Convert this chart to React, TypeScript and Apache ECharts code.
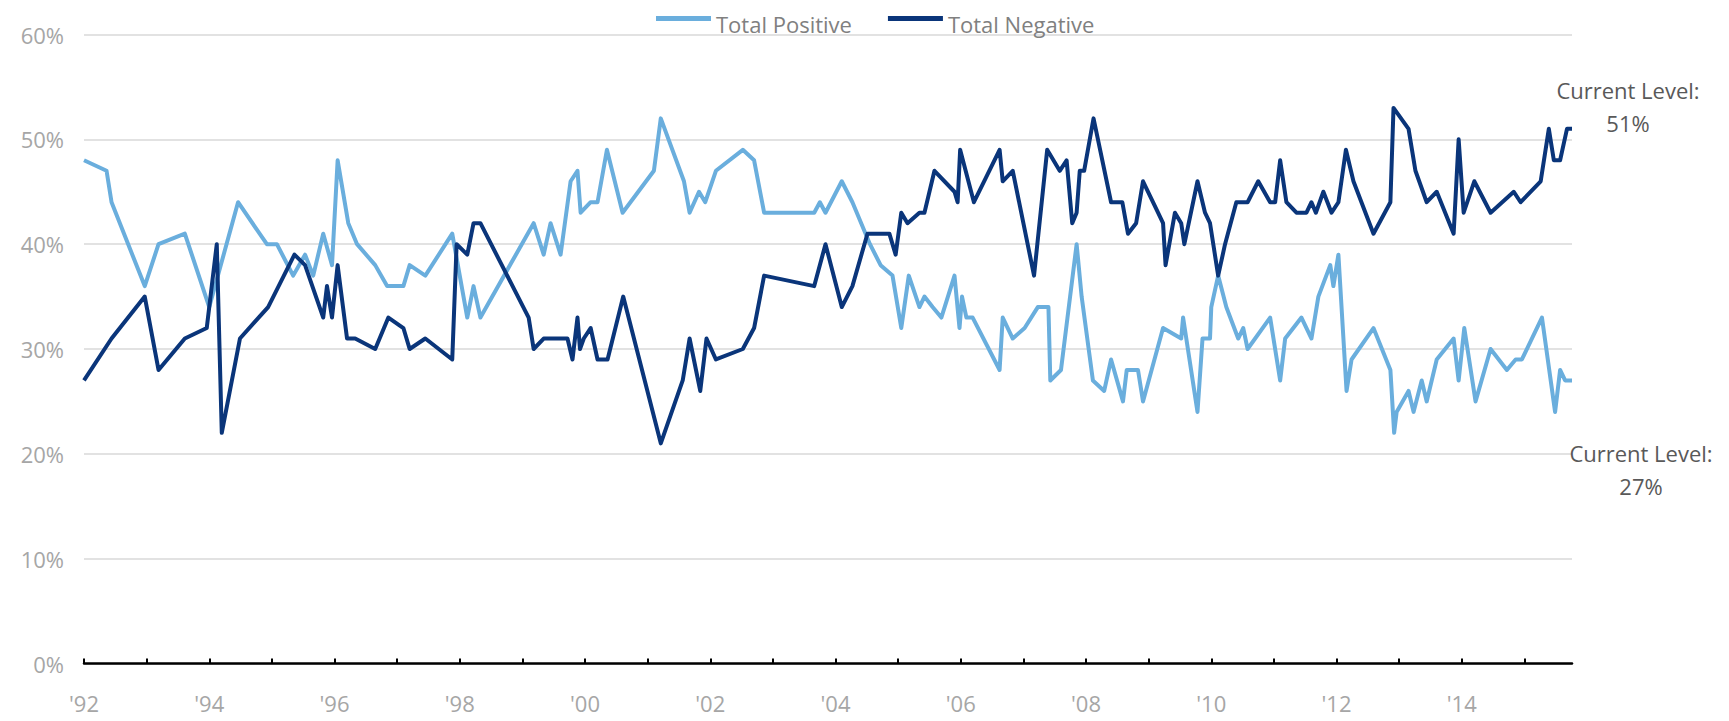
import { useEffect, useRef } from 'react';
import * as echarts from 'echarts';

const seriesNames = ['Total Positive', 'Total Negative'];
const seriesColors = ['#6AAEDD', '#0A357A'];
const annotationLabel = 'Current Level:';
const xStart = 1992;
const xEnd = 2015.76;
const yMax = 60;
const yStep = 10;

const positiveDates = [
  1992.00, 1992.36, 1992.44, 1992.97, 1993.19, 1993.61, 1994.00, 1994.46, 1994.92, 1995.08,
  1995.34, 1995.53, 1995.66, 1995.82, 1995.96, 1996.05, 1996.22, 1996.36, 1996.65, 1996.84,
  1997.10, 1997.20, 1997.45, 1997.88, 1998.12, 1998.22, 1998.33, 1999.18, 1999.34, 1999.45,
  1999.61, 1999.77, 1999.88, 1999.93, 2000.09, 2000.20, 2000.35, 2000.60, 2001.10, 2001.21,
  2001.58, 2001.67, 2001.82, 2001.92, 2002.09, 2002.52, 2002.70, 2002.86, 2003.66, 2003.75,
  2003.84, 2004.10, 2004.27, 2004.55, 2004.72, 2004.91, 2005.05, 2005.17, 2005.34, 2005.42,
  2005.55, 2005.69, 2005.90, 2005.98, 2006.02, 2006.09, 2006.19, 2006.62, 2006.67, 2006.83,
  2007.02, 2007.23, 2007.40, 2007.43, 2007.60, 2007.85, 2007.93, 2008.11, 2008.29, 2008.40,
  2008.59, 2008.65, 2008.83, 2008.91, 2009.23, 2009.52, 2009.55, 2009.78, 2009.86, 2009.98,
  2010.00, 2010.11, 2010.24, 2010.43, 2010.51, 2010.58, 2010.94, 2011.10, 2011.18, 2011.44,
  2011.60, 2011.71, 2011.90, 2011.95, 2012.03, 2012.16, 2012.24, 2012.59, 2012.86, 2012.92,
  2012.96, 2013.15, 2013.23, 2013.36, 2013.44, 2013.60, 2013.87, 2013.95, 2014.04, 2014.22,
  2014.46, 2014.72, 2014.86, 2014.96, 2015.28, 2015.49, 2015.57, 2015.65, 2015.76,
];
const positiveValues = [
  48, 47, 44, 36, 40, 41, 34, 44, 40, 40,
  37, 39, 37, 41, 38, 48, 42, 40, 38, 36,
  36, 38, 37, 41, 33, 36, 33, 42, 39, 42,
  39, 46, 47, 43, 44, 44, 49, 43, 47, 52,
  46, 43, 45, 44, 47, 49, 48, 43, 43, 44,
  43, 46, 44, 40, 38, 37, 32, 37, 34, 35,
  34, 33, 37, 32, 35, 33, 33, 28, 33, 31,
  32, 34, 34, 27, 28, 40, 35, 27, 26, 29,
  25, 28, 28, 25, 32, 31, 33, 24, 31, 31,
  34, 37, 34, 31, 32, 30, 33, 27, 31, 33,
  31, 35, 38, 36, 39, 26, 29, 32, 28, 22,
  24, 26, 24, 27, 25, 29, 31, 27, 32, 25,
  30, 28, 29, 29, 33, 24, 28, 27, 27,
];

const negativeDates = [
  1992.00, 1992.44, 1992.97, 1993.19, 1993.61, 1993.96, 1994.12, 1994.20, 1994.49, 1994.94,
  1995.36, 1995.53, 1995.82, 1995.88, 1995.96, 1996.05, 1996.20, 1996.33, 1996.65, 1996.86,
  1997.10, 1997.20, 1997.45, 1997.88, 1997.95, 1998.12, 1998.22, 1998.33, 1999.10, 1999.18,
  1999.34, 1999.72, 1999.80, 1999.88, 1999.92, 1999.98, 2000.09, 2000.20, 2000.36, 2000.61,
  2001.21, 2001.56, 2001.67, 2001.84, 2001.94, 2002.09, 2002.52, 2002.70, 2002.86, 2003.66,
  2003.84, 2004.10, 2004.27, 2004.51, 2004.86, 2004.96, 2005.05, 2005.15, 2005.34, 2005.42,
  2005.58, 2005.90, 2005.95, 2005.99, 2006.21, 2006.62, 2006.67, 2006.83, 2007.17, 2007.38,
  2007.58, 2007.69, 2007.78, 2007.85, 2007.90, 2007.97, 2008.12, 2008.40, 2008.58, 2008.67,
  2008.80, 2008.91, 2009.15, 2009.23, 2009.27, 2009.42, 2009.52, 2009.57, 2009.78, 2009.90,
  2009.98, 2010.11, 2010.22, 2010.40, 2010.58, 2010.75, 2010.94, 2011.02, 2011.10, 2011.20,
  2011.36, 2011.52, 2011.60, 2011.67, 2011.79, 2011.92, 2012.03, 2012.15, 2012.27, 2012.59,
  2012.86, 2012.91, 2013.15, 2013.26, 2013.44, 2013.60, 2013.87, 2013.95, 2014.03, 2014.20,
  2014.46, 2014.83, 2014.94, 2015.26, 2015.39, 2015.47, 2015.57, 2015.68, 2015.76,
];
const negativeValues = [
  27, 31, 35, 28, 31, 32, 40, 22, 31, 34,
  39, 38, 33, 36, 33, 38, 31, 31, 30, 33,
  32, 30, 31, 29, 40, 39, 42, 42, 33, 30,
  31, 31, 29, 33, 30, 31, 32, 29, 29, 35,
  21, 27, 31, 26, 31, 29, 30, 32, 37, 36,
  40, 34, 36, 41, 41, 39, 43, 42, 43, 43,
  47, 45, 44, 49, 44, 49, 46, 47, 37, 49,
  47, 48, 42, 43, 47, 47, 52, 44, 44, 41,
  42, 46, 43, 42, 38, 43, 42, 40, 46, 43,
  42, 37, 40, 44, 44, 46, 44, 44, 48, 44,
  43, 43, 44, 43, 45, 43, 44, 49, 46, 41,
  44, 53, 51, 47, 44, 45, 41, 50, 43, 46,
  43, 45, 44, 46, 51, 48, 48, 51, 51,
];

const FONT = '"Open Sans", "Liberation Sans", sans-serif';

const zip = (xs: number[], ys: number[]) => xs.map((x, i) => [x, ys[i]]);

export default function App() {
  const ref = useRef<HTMLDivElement>(null);

  useEffect(() => {
    if (!ref.current) return;
    const chart = echarts.init(ref.current, undefined, { renderer: 'svg' });
    const endLabelFor = (offset: number[]) => ({
      show: true,
      formatter: (p: any) => `${annotationLabel}\n${p.value[1]}%`,
      align: 'center',
      verticalAlign: 'middle',
      offset,
      color: '#595959',
      fontSize: 22,
      lineHeight: 33,
      fontFamily: FONT,
    });
    chart.setOption({
      animation: false,
      backgroundColor: '#ffffff',
      textStyle: { fontFamily: FONT },
      grid: {
        left: 84,
        right: 157,
        top: 34.5,
        bottom: 57.5,
        containLabel: false,
        outerBoundsMode: 'none',
      },
      legend: {
        data: seriesNames,
        left: 651,
        top: 8,
        icon: 'rect',
        itemWidth: 55,
        itemHeight: 5,
        itemGap: 36,
        formatter: '{t|{name}}',
        textStyle: {
          color: '#808080',
          fontSize: 22,
          fontFamily: FONT,
          rich: {
            t: {
              color: '#808080',
              fontSize: 22,
              fontFamily: FONT,
              padding: [11, 0, 0, 0],
            },
          },
        },
      },
      xAxis: {
        type: 'value',
        min: xStart,
        max: xEnd,
        interval: 1,
        axisLine: { show: true, lineStyle: { color: '#000000', width: 2.5 } },
        axisTick: { show: true, inside: true, length: 5, lineStyle: { color: '#000000', width: 2 } },
        axisLabel: {
          color: '#a6a6a6',
          fontSize: 22,
          fontFamily: FONT,
          margin: 28,
          showMaxLabel: false,
          showMinLabel: true,
          formatter: (v: number) =>
            Number.isInteger(v) && v % 2 === 0 ? `'${String(v).slice(2)}` : '',
        },
        splitLine: { show: false },
      },
      yAxis: {
        type: 'value',
        min: 0,
        max: yMax,
        interval: yStep,
        axisLine: { show: false },
        axisTick: { show: false },
        axisLabel: {
          formatter: '{value}%',
          color: '#a6a6a6',
          fontSize: 22,
          fontFamily: FONT,
          margin: 20,
        },
        splitLine: { show: true, lineStyle: { color: '#d9d9d9', width: 1.5 } },
      },
      series: [
        {
          name: seriesNames[0],
          type: 'line',
          data: zip(positiveDates, positiveValues),
          symbol: 'none',
          color: seriesColors[0],
          lineStyle: { width: 4, color: seriesColors[0], join: 'round' },
          endLabel: endLabelFor([61, 89]),
          z: 3,
        },
        {
          name: seriesNames[1],
          type: 'line',
          data: zip(negativeDates, negativeValues),
          symbol: 'none',
          color: seriesColors[1],
          lineStyle: { width: 4, color: seriesColors[1], join: 'round' },
          endLabel: endLabelFor([48, -22]),
          z: 4,
        },
      ],
    });
    return () => chart.dispose();
  }, []);

  return (
    <div
      ref={ref}
      style={{ position: 'fixed', left: 0, top: 0, width: 1729, height: 721, background: '#fff' }}
    />
  );
}
